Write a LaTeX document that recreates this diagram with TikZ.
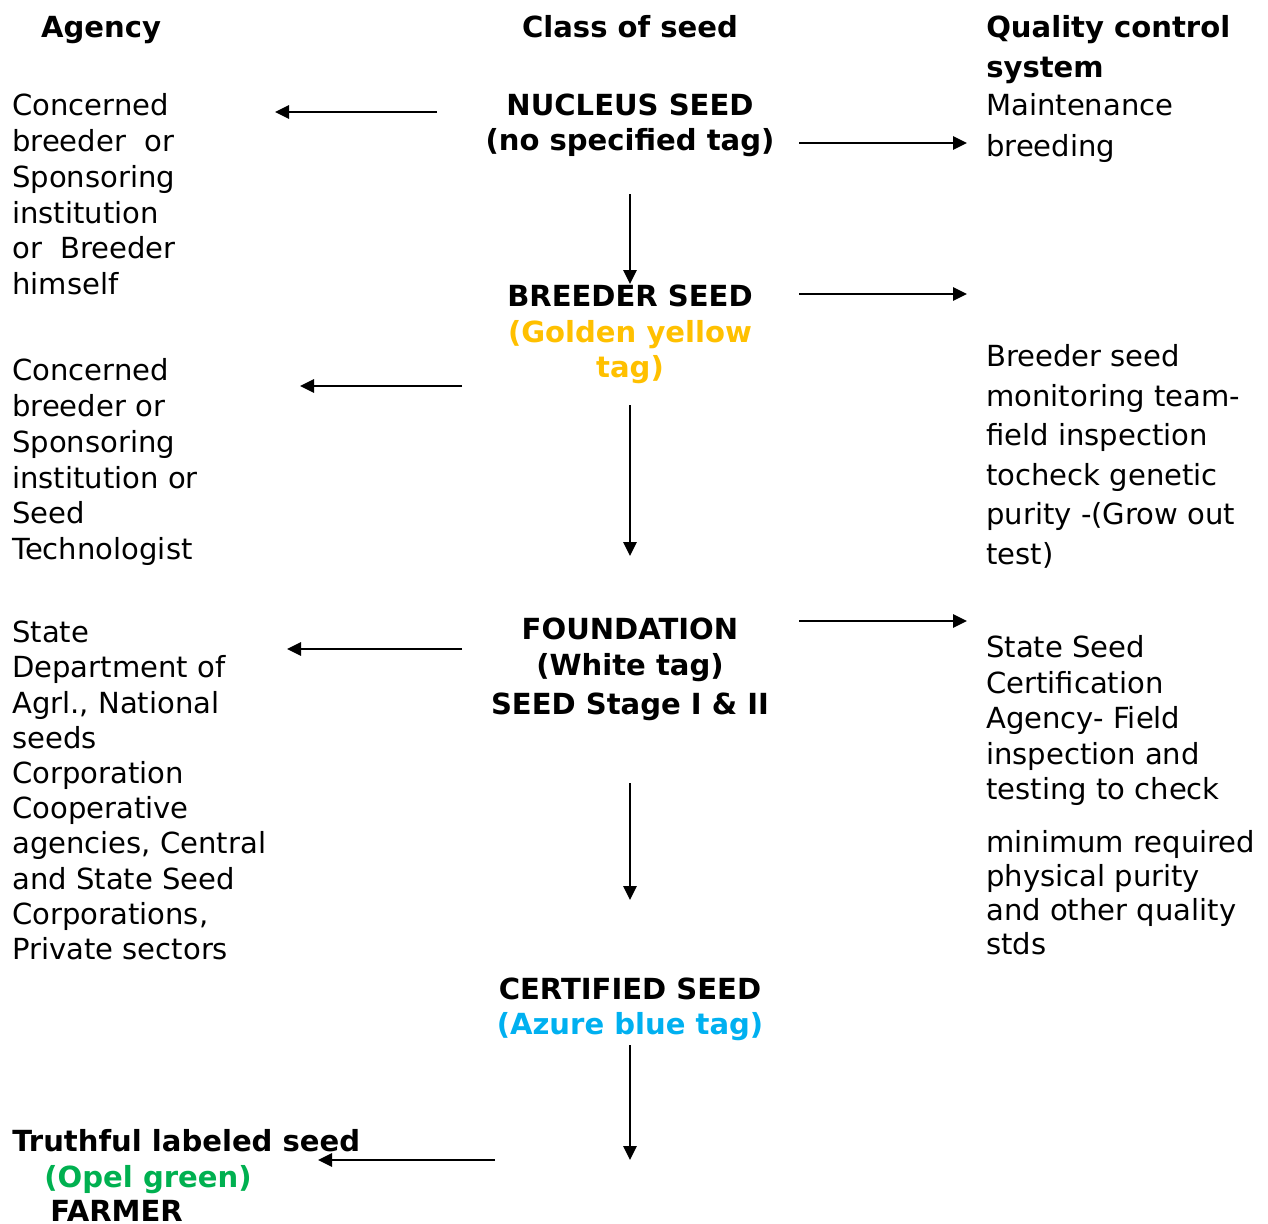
\documentclass[tikz,border=0pt]{standalone}
\usepackage{fontspec}
\setmainfont{DejaVu Sans}
\usetikzlibrary{arrows.meta}
\definecolor{goldtag}{HTML}{FFC000}
\definecolor{azuretag}{HTML}{00B0F0}
\definecolor{greentag}{HTML}{00B050}
\tikzset{
  txt/.style={inner sep=0pt, align=left, anchor=base west, font=\fontsize{21.8}{#1}\selectfont},
  txt/.default=26.8,
  cls/.style={inner sep=0pt, align=center, anchor=base, font=\fontsize{21.8}{#1}\selectfont\bfseries},
  cls/.default=26.6,
  arr/.style={line width=1.5pt, -{Triangle[length=10.5pt,width=10pt]}}
}
\begin{document}
\begin{tikzpicture}[x=0.75pt,y=-0.75pt]
  \useasboundingbox (0,0) rectangle (1268,1224);
  \node[cls] (agency) at (101,37.5) {Agency};
  \node[cls] (class) at (630,37.5) {Class of seed};
  \node[txt=30,font=\fontsize{21.8}{30}\selectfont\bfseries] (qcs) at (986,77.5) {Quality control\\system};

  \node[txt] (ag1) at (12,294.5) {Concerned\\breeder~ or\\Sponsoring\\institution\\or~ Breeder\\himself};
  \node[txt] (ag2) at (12,559.5) {Concerned\\breeder or\\Sponsoring\\institution or\\Seed\\Technologist};
  \node[txt=26.4] (ag3) at (12,959.5) {State\\Department of\\Agrl., National\\seeds\\Corporation\\Cooperative\\agencies, Central\\and State Seed\\Corporations,\\Private sectors};
  \node[cls,anchor=base west] (tl) at (12,1151.5) {Truthful labeled seed};
  \node[cls,text=greentag] (opel) at (148,1187.5) {(Opel green)};
  \node[cls,anchor=base west] (farmer) at (50,1221.5) {FARMER};

  \node[cls] (nucleus) at (630,150.5) {NUCLEUS SEED\\(no specified tag)};
  \node[cls] (breeder) at (630,377.5) {BREEDER SEED\\\textcolor{goldtag}{(Golden yellow}\\\textcolor{goldtag}{tag)}};
  \node[cls] (foundation) at (630,714.5) {FOUNDATION\\(White tag)\\[3pt]SEED Stage I \& II};
  \node[cls] (certified) at (630,1034.5) {CERTIFIED SEED\\\textcolor{azuretag}{(Azure blue tag)}};

  \node[txt=30.5] (qc1) at (986,156.5) {Maintenance\\breeding};
  \node[txt=29.7] (qc2) at (986,564.5) {Breeder seed\\monitoring team-\\field inspection\\tocheck genetic\\purity -(Grow out\\test)};
  \node[txt=26.6] (qc3) at (986,799.5) {State Seed\\Certification\\Agency- Field\\inspection and\\testing to check};
  \node[txt=25.5] (qc4) at (986,954.5) {minimum required\\physical purity\\and other quality\\stds};

  \coordinate (nuc-l) at (437,112);  \coordinate (ag1-r) at (275,112);
  \coordinate (nuc-r) at (799,143);  \coordinate (qc1-l) at (967,143);
  \coordinate (nuc-b) at (630,194);  \coordinate (bre-t) at (630,284);
  \coordinate (bre-r) at (799,294);  \coordinate (qc2-l) at (967,294);
  \coordinate (bre-l) at (462,386);  \coordinate (ag2-r) at (300,386);
  \coordinate (bre-b) at (630,405);  \coordinate (fou-t) at (630,556);
  \coordinate (fou-r) at (799,621);  \coordinate (qc3-l) at (967,621);
  \coordinate (fou-l) at (462,649);  \coordinate (ag3-r) at (287,649);
  \coordinate (fou-b) at (630,783);  \coordinate (cer-t) at (630,900);
  \coordinate (cer-b) at (630,1045); \coordinate (far-t) at (630,1160);
  \coordinate (far-r) at (495,1160); \coordinate (tl-r) at (318,1160);

  \begin{scope}[arr]
    \draw (nuc-l) -- (ag1-r);
    \draw (nuc-r) -- (qc1-l);
    \draw (nuc-b) -- (bre-t);
    \draw (bre-r) -- (qc2-l);
    \draw (bre-l) -- (ag2-r);
    \draw (bre-b) -- (fou-t);
    \draw (fou-r) -- (qc3-l);
    \draw (fou-l) -- (ag3-r);
    \draw (fou-b) -- (cer-t);
    \draw (cer-b) -- (far-t);
    \draw (far-r) -- (tl-r);
  \end{scope}
\end{tikzpicture}
\end{document}
